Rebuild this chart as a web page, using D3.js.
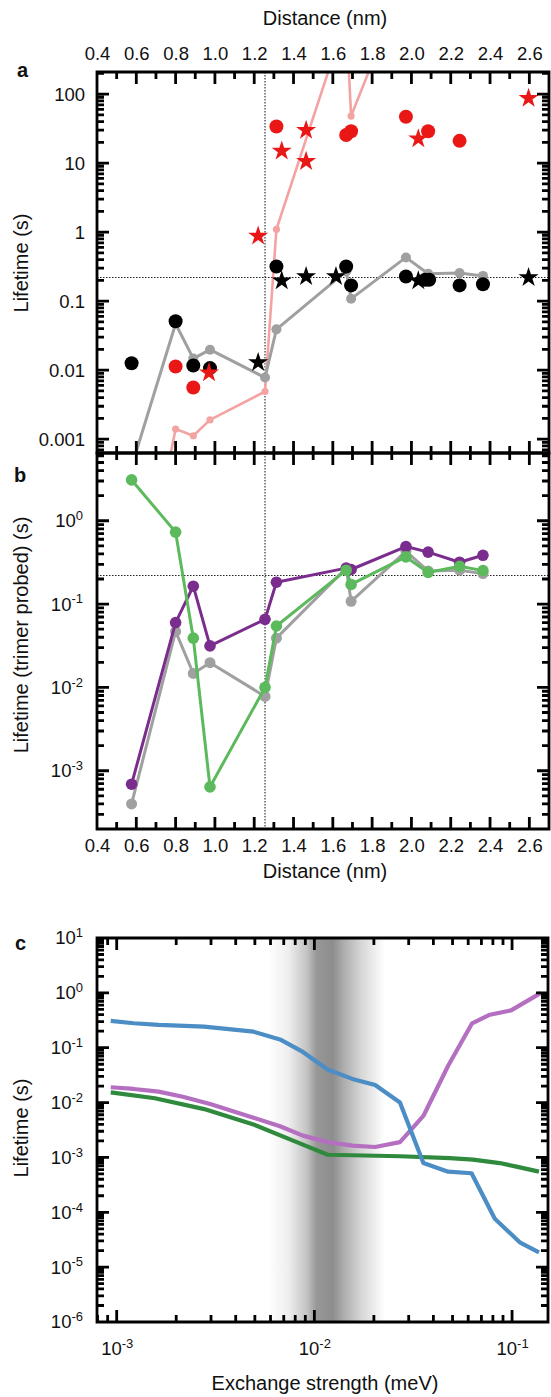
<!DOCTYPE html>
<html>
<head>
<meta charset="utf-8">
<script src="https://cdnjs.cloudflare.com/ajax/libs/d3/7.8.5/d3.min.js"></script>
<style>
  body { margin: 0; background: #fff; }
  svg text { font-family: "Liberation Sans", Arial, sans-serif; }
</style>
</head>
<body>
<div id="chart"></div>
<script>
// ---- data ----
// distances (nm) of the measured sites, shared by the line series
const sites = [0.576, 0.80, 0.89, 0.975, 1.255, 1.313, 1.668, 1.693, 1.972, 2.085, 2.245, 2.364];

// panel a + b: grey series (same in both panels)
const grayLife = [0.0004, 0.047, 0.0147, 0.0198, 0.0078, 0.039, 0.27, 0.108, 0.43, 0.25, 0.255, 0.232];
// panel a: light red line (first 9 sites, rest off-scale)
const pinkLife = [0.000001, 0.0014, 0.00112, 0.0019, 0.0049, 1.1, 1300, 48, 4800];

// panel a: measured points
const blackDotDist = [0.576, 0.80, 0.89, 0.975, 1.313, 1.668, 1.693, 1.972, 2.07, 2.09, 2.245, 2.364];
const blackDotLife = [0.0126, 0.051, 0.0117, 0.0107, 0.318, 0.318, 0.169, 0.228, 0.204, 0.204, 0.169, 0.176];
const blackStarDist = [1.22, 1.34, 1.464, 1.616, 2.035, 2.596];
const blackStarLife = [0.0129, 0.197, 0.228, 0.228, 0.197, 0.22];
const redDotDist = [0.80, 0.89, 1.313, 1.668, 1.693, 1.972, 2.085, 2.245];
const redDotLife = [0.0113, 0.0056, 34, 25.5, 29, 47, 29, 21];
const redStarDist = [0.97, 1.22, 1.34, 1.464, 1.464, 2.035, 2.596];
const redStarLife = [0.0092, 0.88, 15, 30, 10.6, 22.5, 87];

// panel b
const purpleLife = [0.00069, 0.06, 0.164, 0.0315, 0.0656, 0.183, 0.27, 0.26, 0.49, 0.42, 0.318, 0.385];
const greenLife = [3.09, 0.73, 0.039, 0.00064, 0.01, 0.0546, 0.255, 0.172, 0.368, 0.24, 0.284, 0.252];

const refLife = 0.22;     // dotted horizontal line
const refDist = 1.255;    // dotted vertical line

// panel c: exchange strength (meV) vs lifetime (s)
const blueJ = [0.000933, 0.00122, 0.00163, 0.00277, 0.00492, 0.0067, 0.00875, 0.01167, 0.01556, 0.0203, 0.0271, 0.0356, 0.0475, 0.0624, 0.0818, 0.1094, 0.1368];
const blueT = [0.308, 0.279, 0.26, 0.242, 0.196, 0.1416, 0.0838, 0.0402, 0.027, 0.0209, 0.01, 0.00079, 0.00055, 0.000515, 0.000076, 0.0000284, 0.0000186];
const violetJ = [0.000933, 0.00122, 0.00163, 0.00216, 0.0030, 0.00492, 0.0067, 0.00875, 0.01167, 0.01556, 0.0203, 0.0271, 0.0356, 0.0475, 0.0628, 0.0773, 0.0989, 0.14];
const violetT = [0.019, 0.0177, 0.0158, 0.0128, 0.0093, 0.0053, 0.0037, 0.0025, 0.0019, 0.00164, 0.00155, 0.0019, 0.0057, 0.047, 0.279, 0.40, 0.48, 1.0];
const darkGreenJ = [0.000933, 0.00156, 0.00277, 0.00492, 0.00875, 0.01167, 0.0272, 0.0485, 0.0635, 0.0867, 0.1052, 0.1368];
const darkGreenT = [0.0153, 0.012, 0.0076, 0.004, 0.00171, 0.00112, 0.00105, 0.00097, 0.00091, 0.00079, 0.00068, 0.00055];
const band = [0.0058, 0.0226]; // shaded exchange range: low, high

// ---- canvas ----
const svg = d3.select("#chart").append("svg")
  .attr("width", 551).attr("height", 1397);

const xA = d3.scaleLinear().domain([0.4, 2.7]).range([97, 549]);
const yA = d3.scaleLog().domain([6.3e-4, 209]).range([453, 72]);
const yB = d3.scaleLog().domain([2.0e-4, 6.5]).range([829, 453]);
const xC = d3.scaleLog().domain([7.95e-4, 0.152]).range([97, 548]);
const yC = d3.scaleLog().domain([1e-6, 10]).range([1322, 938]);

const FONT = 18.5;

function logMinor(dom) {
  const out = [];
  for (let e = Math.floor(Math.log10(dom[0])); e <= Math.ceil(Math.log10(dom[1])); e++)
    for (let m = 2; m <= 9; m++) {
      const v = m * Math.pow(10, e);
      if (v >= dom[0] && v <= dom[1]) out.push(v);
    }
  return out;
}
function logMajor(dom) {
  return d3.range(Math.ceil(Math.log10(dom[0])), Math.floor(Math.log10(dom[1])) + 1).map(e => Math.pow(10, e));
}
const linMajor = d3.range(4, 27, 2).map(v => v / 10);
const linMinor = d3.range(5, 28, 2).map(v => v / 10);

function supText(sel) {
  sel.selectAll(".tick text").each(function(d) {
    const t = d3.select(this);
    t.text("10");
    t.append("tspan").attr("dy", "-0.55em").attr("font-size", "13px").text(Math.round(Math.log10(d)));
  });
}

// frame outline plus inward ticks on all four sides in one path; labels via d3 axes
function frame(x, y, xMaj, xMin, yMaj, yMin, fmt) {
  const [x0, x1] = x.range();
  const [y1, y0] = y.range();

  const p = d3.path();
  p.rect(x0, y0, x1 - x0, y1 - y0);
  [[yMaj, xMaj, 12], [yMin, xMin, 7]].forEach(([yv, xv, len]) => {
    yv.forEach(v => {
      const yy = y(v);
      p.moveTo(x0, yy); p.lineTo(x0 + len, yy);
      p.moveTo(x1, yy); p.lineTo(x1 - len, yy);
    });
    xv.forEach(v => {
      const xx = x(v);
      p.moveTo(xx, y0); p.lineTo(xx, y0 + len);
      p.moveTo(xx, y1); p.lineTo(xx, y1 - len);
    });
  });
  svg.append("path").attr("d", p.toString())
    .attr("fill", "none").attr("stroke", "#000").attr("stroke-width", 2.8);

  const lab = [
    ["left", d3.axisLeft(y), `translate(${x0},0)`, yMaj],
    ["top", d3.axisTop(x), `translate(0,${y0})`, xMaj],
    ["bottom", d3.axisBottom(x), `translate(0,${y1})`, xMaj]
  ];
  lab.forEach(([name, ax, tr, vals]) => {
    const f = fmt[name];
    if (!f) return;
    const g = svg.append("g").attr("transform", tr)
      .call(ax.tickValues(vals).tickSize(0).tickPadding(f.pad).tickFormat(f.f));
    g.select(".domain").remove();
    g.selectAll(".tick line").remove();
    g.attr("font-size", FONT).attr("font-family", null);
    g.selectAll(".tick text").attr("fill", "#111");
    if (f.sup) supText(g);
  });
}

function dotted(x, y) {
  const [x0, x1] = x.range();
  const [y1, y0] = y.range();
  svg.append("line").attr("x1", x0).attr("x2", x1).attr("y1", y(refLife)).attr("y2", y(refLife))
    .attr("stroke", "#222").attr("stroke-width", 1.1).attr("stroke-dasharray", "1.5,1.5");
  svg.append("line").attr("x1", x(refDist)).attr("x2", x(refDist)).attr("y1", y0).attr("y2", y1)
    .attr("stroke", "#222").attr("stroke-width", 1.1).attr("stroke-dasharray", "1.5,1.5");
}

function clip(id, x, y) {
  const [x0, x1] = x.range();
  const [y1, y0] = y.range();
  svg.append("clipPath").attr("id", id).append("rect")
    .attr("x", x0).attr("y", y0).attr("width", x1 - x0).attr("height", y1 - y0);
  return svg.append("g").attr("clip-path", `url(#${id})`);
}

function series(g, x, y, xs, ys, color, lw, r) {
  const pts = xs.map((d, i) => [d, ys[i]]);
  g.append("path").datum(pts)
    .attr("d", d3.line().x(d => x(d[0])).y(d => y(d[1])))
    .attr("fill", "none").attr("stroke", color).attr("stroke-width", lw)
    .attr("stroke-linejoin", "round");
  if (r) g.selectAll(null).data(pts).enter().append("circle")
    .attr("cx", d => x(d[0])).attr("cy", d => y(d[1])).attr("r", r).attr("fill", color);
}

function dots(g, x, y, xs, ys, color, r) {
  g.selectAll(null).data(xs.map((d, i) => [d, ys[i]])).enter().append("circle")
    .attr("cx", d => x(d[0])).attr("cy", d => y(d[1])).attr("r", r).attr("fill", color);
}
function stars(g, x, y, xs, ys, color, size) {
  g.selectAll(null).data(xs.map((d, i) => [d, ys[i]])).enter().append("path")
    .attr("d", d3.symbol(d3.symbolStar, size))
    .attr("transform", d => `translate(${x(d[0])},${y(d[1])})`)
    .attr("fill", color);
}

// ---- panel a ----
dotted(xA, yA);
const gA = clip("clipA", xA, yA);
series(gA, xA, yA, sites.slice(0, pinkLife.length), pinkLife, "#f4a3a3", 2.6, 3.6);
series(gA, xA, yA, sites, grayLife, "#a0a0a0", 3, 5);
dots(gA, xA, yA, blackDotDist, blackDotLife, "#000", 7);
dots(gA, xA, yA, redDotDist, redDotLife, "#ea1717", 7);
stars(gA, xA, yA, blackStarDist, blackStarLife, "#000", 125);
stars(gA, xA, yA, redStarDist, redStarLife, "#ea1717", 125);

frame(xA, yA, linMajor, linMinor, logMajor(yA.domain()), logMinor(yA.domain()), {
  left: { f: d => String(d), pad: 12 },
  top: { f: d3.format(".1f"), pad: 12 }
});

// ---- panel b ----
dotted(xA, yB);
const gB = clip("clipB", xA, yB);
series(gB, xA, yB, sites, grayLife, "#a0a0a0", 3, 5.5);
series(gB, xA, yB, sites, purpleLife, "#7b2d8e", 3, 5.8);
series(gB, xA, yB, sites, greenLife, "#5cba5c", 3, 5.8);

frame(xA, yB, linMajor, linMinor, logMajor(yB.domain()), logMinor(yB.domain()), {
  left: { f: d => d, pad: 14, sup: true },
  bottom: { f: d3.format(".1f"), pad: 10 }
});

// ---- panel c ----
const [bLo, bHi] = band.map(xC);
const grad = svg.append("defs").append("linearGradient").attr("id", "bandGrad")
  .attr("x1", "0%").attr("x2", "100%").attr("y1", "0%").attr("y2", "0%");
[[0, "#ffffff"], [0.18, "#eeeeee"], [0.34, "#c2c2c2"], [0.42, "#979797"], [0.56, "#8d8d8d"],
 [0.64, "#a9a9a9"], [0.8, "#d6d6d6"], [1, "#ffffff"]]
  .forEach(([o, c]) => grad.append("stop").attr("offset", o).attr("stop-color", c));
svg.append("rect").attr("x", bLo).attr("y", yC.range()[1]).attr("width", bHi - bLo)
  .attr("height", yC.range()[0] - yC.range()[1]).attr("fill", "url(#bandGrad)");

const gC = clip("clipC", xC, yC);
series(gC, xC, yC, darkGreenJ, darkGreenT, "#2f8a3d", 4.2, 0);
series(gC, xC, yC, violetJ, violetT, "#b46fc0", 4.2, 0);
series(gC, xC, yC, blueJ, blueT, "#4b8dc4", 4.2, 0);

frame(xC, yC, logMajor(xC.domain()), logMinor(xC.domain()), logMajor(yC.domain()), logMinor(yC.domain()), {
  left: { f: d => d, pad: 14, sup: true },
  bottom: { f: d => d, pad: 20, sup: true }
});

// ---- titles ----
function title(txt, x, y, rot) {
  svg.append("text").attr("x", x).attr("y", y).attr("font-size", 20)
    .attr("text-anchor", "middle").attr("fill", "#111")
    .attr("transform", rot ? `rotate(-90,${x},${y})` : null).text(txt);
}
title("Distance (nm)", 325, 25);
title("Distance (nm)", 325, 878);
title("Exchange strength (meV)", 325, 1390);
title("Lifetime (s)", 28, 263, true);
title("Lifetime (trimer probed) (s)", 28, 635, true);
title("Lifetime (s)", 28, 1128, true);

[["a", 17, 77], ["b", 14, 482], ["c", 15, 950]].forEach(([t, x, y]) =>
  svg.append("text").attr("x", x).attr("y", y).attr("font-size", 20)
    .attr("font-weight", "bold").attr("fill", "#111").text(t));
</script>
</body>
</html>
